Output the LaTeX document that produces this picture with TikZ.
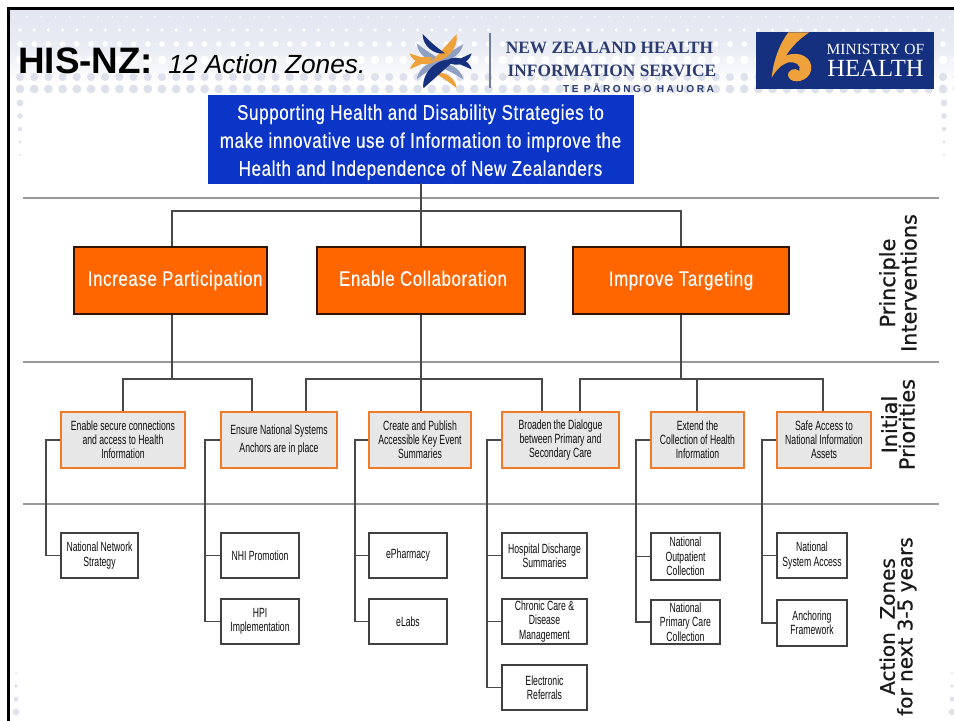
\documentclass[tikz,border=0pt]{standalone}
\usepackage{fontspec}
\setmainfont{Liberation Sans}
\newfontfamily\tinyf[FakeStretch=0.65]{Liberation Sans}
\newfontfamily\headf[FakeStretch=0.80,LetterSpace=3,FakeBold=0.3]{Liberation Sans}
\newfontfamily\sidef[FakeBold=0.8]{DejaVu Sans}
\newfontfamily\logof{Liberation Serif}
\usetikzlibrary{calc}
\definecolor{bandtop}{HTML}{E2E6F0}
\definecolor{dotgrey}{HTML}{DDE1EC}
\definecolor{bluebox}{HTML}{0B35C6}
\definecolor{orangebox}{HTML}{FF6600}
\definecolor{orangeedge}{HTML}{F07A26}
\definecolor{greybox}{HTML}{E7E7E7}
\definecolor{conn}{HTML}{484848}
\definecolor{navy}{HTML}{14307F}
\definecolor{logoink}{HTML}{2C3C70}
\definecolor{logoorange}{HTML}{EFA23C}
\definecolor{logoblue}{HTML}{8F9FC2}
\newcommand{\bx}[7][]{%
  \pgfmathsetmacro{\bcx}{(#3+#5)/2}\pgfmathsetmacro{\bcy}{(#4+#6)/2}%
  \pgfmathsetmacro{\bwd}{(#5-#3)*0.75}\pgfmathsetmacro{\bht}{(#6-#4)*0.75}%
  \node[#1,minimum width=\bwd pt,minimum height=\bht pt] (#2) at (\bcx,\bcy) {#7};}
\newcommand{\blade}[5]{% colour, from, to, bend a, bend b
  \fill[#1] #2 to[bend left=#4] #3 to[bend left=#5] #2;}
\tikzset{
  conline/.style={draw=conn,line width=0.95pt},
  sepline/.style={draw=black!40,line width=1.1pt},
  bluestyle/.style={fill=bluebox,draw=bluebox,text=white,inner sep=0pt,align=center,font=\headf\fontsize{15.9}{21}\selectfont},
  orangestyle/.style={fill=orangebox,draw=black!80!orangebox,line width=1.2pt,text=white,inner sep=0pt,align=center,text height=11pt,text depth=3pt,font=\headf\fontsize{15.8}{18}\selectfont},
  prio/.style={fill=greybox,draw=orangeedge,line width=2.2pt,text=black!95,inner sep=0pt,align=center,font=\tinyf\fontsize{10}{10.6}\selectfont},
  child/.style={fill=white,draw=black!75,line width=0.95pt,text=black!95,inner sep=0pt,align=center,font=\tinyf\fontsize{10}{10.8}\selectfont},
  sidelabel/.style={rotate=90,align=center,inner sep=0pt,text=black!90,font=\sidef\fontsize{15.6}{13.2}\selectfont},
  titlebold/.style={anchor=base west,inner sep=0pt,font=\bfseries\fontsize{27.6}{30}\selectfont},
  titleital/.style={anchor=base west,inner sep=0pt,font=\itshape\fontsize{19.7}{22}\selectfont},
  logotext/.style={inner sep=0pt,text=logoink,font=\logof\bfseries\fontsize{13}{14}\selectfont},
  logosmall/.style={inner sep=0pt,text=logoink,font=\bfseries\fontsize{7.6}{8}\selectfont},
}
\begin{document}
\begin{tikzpicture}[x=0.75pt,y=-0.75pt]
\useasboundingbox (0,0) rectangle (954,721);
\fill[white] (0,0) rectangle (954,721);
% dotted header band
\shade[top color=bandtop,bottom color=white,middle color=bandtop!75] (10,9) rectangle (954,84);
\begin{scope}
\clip (10,9) rectangle (954,721);
\foreach \k in {0,...,66}{
  \pgfmathsetmacro{\dx}{20+14.2*\k}
  \fill[white!70!bandtop] (\dx-7,17) circle (1);
  \fill[white] (\dx,30) circle (1.8);
  \fill[white] (\dx,44) circle (2.8);
  \fill[white] (\dx,60) circle (4.2);
  \fill[dotgrey] (\dx,77) circle (4);
  \fill[dotgrey] (\dx,89) circle (4.4);
}
\foreach \yy/\rr in {103/3.4,116/2.8,129/2.2,142/1.6,155/1.1}{
  \fill[dotgrey] (20,\yy) circle (\rr);
  \fill[dotgrey] (944,\yy) circle (\rr);
}
\foreach \yy/\rr in {673/1.2,686/1.8,699/2.4,712/3.2}{
  \fill[dotgrey] (16,\yy) circle (\rr);
  \fill[dotgrey] (952,\yy) circle (\rr);
}
\end{scope}
% frame
\draw[black,line width=1.9pt] (8.5,721) -- (8.5,8.5) -- (954,8.5);
% title
\node[titlebold] (ttl) at (18,73) {HIS-NZ:};
\node[titleital] (sub) at (168,73) {12 Action Zones.};
% NZHIS logo
\begin{scope}[shift={(400,20)},x=0.25pt,y=-0.25pt]
\blade{logoblue}{(50,70)}{(135,125)}{-50}{5}
\blade{logoblue}{(190,72)}{(100,118)}{50}{-5}
\blade{logoblue}{(50,178)}{(130,128)}{50}{-5}
\blade{logoblue}{(190,178)}{(105,135)}{-50}{5}
\blade{logoorange}{(170,42)}{(95,125)}{50}{0}
\blade{logoorange}{(28,100)}{(105,125)}{-50}{0}
\blade{logoorange}{(30,148)}{(100,115)}{50}{0}
\blade{logoorange}{(170,205)}{(105,160)}{-50}{5}
\blade{navy}{(68,42)}{(135,100)}{-50}{5}
\blade{navy}{(215,100)}{(150,130)}{50}{0}
\blade{navy}{(215,148)}{(145,118)}{-50}{0}
\blade{navy}{(70,205)}{(165,120)}{55}{0}
\end{scope}
\draw[draw=logoblue!80!black,line width=0.8pt] (490,33) -- (490,88);
\node[logotext] (nz1) at (609.5,48) {NEW ZEALAND HEALTH};
\node[logotext] (nz2) at (612,71) {INFORMATION SERVICE};
\node[logosmall] (nz3) at (638.5,88.5) {\addfontfeature{LetterSpace=25}TE PĀRONGO HAUORA};
% Ministry logo
\fill[navy] (755.5,32) rectangle (933.5,89);
\begin{scope}[shift={(750,25)},x=0.25pt,y=-0.25pt]
\fill[logoorange] (178,22) .. controls (150,40) and (125,65) .. (108,92)
  .. controls (150,75) and (190,100) .. (183,135)
  .. controls (178,170) and (125,180) .. (115,155)
  .. controls (110,135) and (135,125) .. (148,138)
  .. controls (155,120) and (135,108) .. (115,112)
  .. controls (95,118) and (78,135) .. (65,158)
  .. controls (70,105) and (90,55) .. (115,22) -- cycle;
\end{scope}
\node[inner sep=0pt,text=white,font=\logof\fontsize{11.6}{14}\selectfont] (moh1) at (875.5,49) {MINISTRY OF};
\node[inner sep=0pt,text=white,font=\logof\fontsize{18.5}{22}\selectfont] (moh2) at (875.5,68) {HEALTH};
% separators
\coordinate (sl) at (23,0); \coordinate (sr) at (939,0);
\coordinate (h1) at (0,198); \coordinate (h2) at (0,362); \coordinate (h3) at (0,504);
\draw[sepline] (sl |- h1) -- (sr |- h1);
\draw[sepline] (sl |- h2) -- (sr |- h2);
\draw[sepline,line width=0.9pt] (sl |- h3) -- (sr |- h3);
% main boxes
\bx[bluestyle]{top}{208}{95}{633}{183}{\rule{0pt}{16.5pt}Supporting Health and Disability Strategies to\\make innovative use of Information to improve the\\Health and Independence of New Zealanders}
\bx[orangestyle]{o1}{74}{247}{267}{314}{\hspace*{7pt}Increase Participation}
\bx[orangestyle]{o2}{317}{247}{525}{314}{\hspace*{3pt}Enable Collaboration}
\bx[orangestyle]{o3}{573}{247}{789}{314}{Improve Targeting}
\bx[prio]{p1}{61}{412}{185}{468}{Enable secure connections\\and access to Health\\Information}
\bx[prio,font=\tinyf\fontsize{10}{13.2}\selectfont]{p2}{221}{412}{337}{468}{Ensure National Systems\\Anchors are in place}
\bx[prio]{p3}{369}{412}{471}{468}{Create and Publish\\Accessible Key Event\\Summaries}
\bx[prio]{p4}{502}{412}{619}{468}{Broaden the Dialogue\\between Primary and\\Secondary Care}
\bx[prio]{p5}{651}{412}{744}{468}{Extend the\\Collection of Health\\Information}
\bx[prio]{p6}{777}{412}{871}{468}{Safe Access to\\National Information\\Assets}
\bx[child]{c11}{61}{533}{138}{578}{National Network\\Strategy}
\bx[child]{c21}{221}{533}{299}{578}{NHI Promotion}
\bx[child]{c22}{221}{599}{299}{644}{HPI\\Implementation}
\bx[child]{c31}{369}{533}{447}{578}{ePharmacy}
\bx[child]{c32}{369}{599}{447}{644}{eLabs}
\bx[child]{c41}{502}{533}{587}{578}{Hospital Discharge\\Summaries}
\bx[child]{c42}{502}{599}{587}{644}{Chronic Care \&\\Disease\\Management}
\bx[child]{c43}{502}{665}{587}{710}{Electronic\\Referrals}
\bx[child]{c51}{651}{533}{720}{580}{National\\Outpatient\\Collection}
\bx[child]{c52}{651}{600}{720}{644}{National\\Primary Care\\Collection}
\bx[child]{c61}{777}{533}{847}{578}{National\\System Access}
\bx[child]{c62}{777}{600}{847}{646}{Anchoring\\Framework}
% side labels
\node[sidelabel] (s1) at (898,283) {Principle\\Interventions};
\node[sidelabel] (s2) at (898,424.5) {Initial\\Priorities};
\node[sidelabel,font=\sidef\fontsize{15}{13.2}\selectfont] (s3) at (898,626.5) {Action\ \ Zones\\for next 3-5 years};
% tap points
\coordinate (bus0) at (0,211);
\coordinate (bus1) at (0,379);
\coordinate (t1) at (172,0); \coordinate (t2) at (421,0); \coordinate (t3) at (681,0);
\coordinate (a1) at (123,0); \coordinate (a2) at (252,0);
\coordinate (a3) at (306,0); \coordinate (a4) at (421,0); \coordinate (a5) at (542,0);
\coordinate (a6) at (580,0); \coordinate (a7) at (697,0); \coordinate (a8) at (823,0);
\coordinate (r1) at (46,0); \coordinate (r2) at (205,0); \coordinate (r3) at (355,0);
\coordinate (r4) at (487,0); \coordinate (r5) at (636,0); \coordinate (r6) at (762,0);
% top tree
\draw[conline] (t2 |- top.south) -- (t2 |- o2.north);
\draw[conline] (t1 |- o1.north) -- (t1 |- bus0) -- (t3 |- bus0) -- (t3 |- o3.north);
\draw[conline] (t1 |- o1.south) -- (t1 |- bus1);
\draw[conline] (t2 |- o2.south) -- (t2 |- p3.north);
\draw[conline] (t3 |- o3.south) -- (t3 |- bus1);
\draw[conline] (a1 |- p1.north) -- (a1 |- bus1) -- (a2 |- bus1) -- (a2 |- p2.north);
\draw[conline] (a3 |- p2.north) -- (a3 |- bus1) -- (a5 |- bus1) -- (a5 |- p4.north);
\draw[conline] (a6 |- p4.north) -- (a6 |- bus1) -- (a8 |- bus1) -- (a8 |- p6.north);
\draw[conline] (a7 |- bus1) -- (a7 |- p5.north);
% rails
\draw[conline] (p1.west) -- (r1 |- p1.west) -- (r1 |- c11.west) -- (c11.west);
\draw[conline] (p2.west) -- (r2 |- p2.west) -- (r2 |- c22.west) -- (c22.west);
\draw[conline] (r2 |- c21.west) -- (c21.west);
\draw[conline] (p3.west) -- (r3 |- p3.west) -- (r3 |- c32.west) -- (c32.west);
\draw[conline] (r3 |- c31.west) -- (c31.west);
\draw[conline] (p4.west) -- (r4 |- p4.west) -- (r4 |- c43.west) -- (c43.west);
\draw[conline] (r4 |- c41.west) -- (c41.west);
\draw[conline] (r4 |- c42.west) -- (c42.west);
\draw[conline] (p5.west) -- (r5 |- p5.west) -- (r5 |- c52.west) -- (c52.west);
\draw[conline] (r5 |- c51.west) -- (c51.west);
\draw[conline] (p6.west) -- (r6 |- p6.west) -- (r6 |- c62.west) -- (c62.west);
\draw[conline] (r6 |- c61.west) -- (c61.west);
\end{tikzpicture}
\end{document}
